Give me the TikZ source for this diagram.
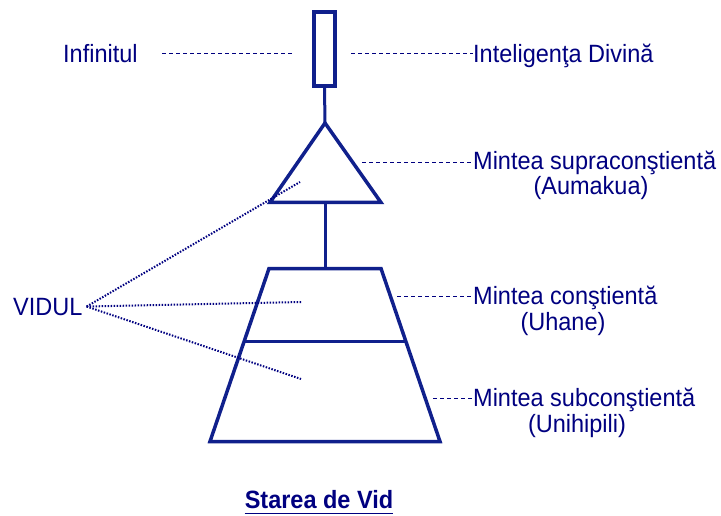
\documentclass[tikz,border=0pt]{standalone}
\usepackage{fontspec}
\setmainfont{Liberation Sans}[FakeStretch=0.94]
\definecolor{vidnavy}{RGB}{0,0,128}
\definecolor{vidline}{RGB}{16,32,140}

\begin{document}
\begin{tikzpicture}[x=1pt, y=-1pt,
    lbl/.style={font=\fontsize{25}{30}\selectfont, text=vidnavy, inner sep=0pt},
    shapeln/.style={draw=vidline, line width=3.5pt},
    stem/.style={draw=vidline, line width=3pt},
    guide/.style={draw=vidnavy, line width=0.9pt, dash pattern=on 4pt off 3pt},
    voidln/.style={draw=vidnavy, line width=2pt, dash pattern=on 1.5pt off 1.5pt}]

    \useasboundingbox (0,0) rectangle (721,516);

    % ====== SHAPES ======
    % Infinite (box)
    \node[shapeln, minimum width=21pt, minimum height=74pt, inner sep=0pt] (infbox) at (324.5,49) {};

    % Supraconscious (triangle)
    \coordinate (apex) at (325,123);
    \coordinate (trbl) at (270,202.5);
    \coordinate (trbr) at (381,202.5);
    \coordinate (trmid) at (325,202.5);
    \draw[shapeln, line join=miter] (apex) -- (trbr) -- (trbl) -- cycle;

    % Conscious and subconscious (trapezoid)
    \coordinate (tztl) at (269,268.5);
    \coordinate (tztr) at (381,268.5);
    \coordinate (tzbr) at (440,441.5);
    \coordinate (tzbl) at (210,441.5);
    \coordinate (tztop) at (325,268.5);
    \coordinate (tzml) at (244,341.5);
    \coordinate (tzmr) at (406,341.5);
    \draw[shapeln] (tztl) -- (tztr) -- (tzbr) -- (tzbl) -- cycle;
    \draw[shapeln] (tzml) -- (tzmr);

    % Stems
    \draw[stem] (infbox.south) -- (apex);
    \draw[stem] (trmid) -- (tztop);

    % ====== LABELS ======
    \node[lbl, anchor=base west] (infinit) at (63,63) {Infinitul};
    \node[lbl, anchor=base west] (divina) at (473,63) {Inteligenţa Divină};
    \node[lbl, anchor=base west] (supra) at (473,170) {Mintea supraconştientă};
    \node[lbl, anchor=base] (aumakua) at (591,195) {(Aumakua)};
    \node[lbl, anchor=base west] (constient) at (473,304) {Mintea conştientă};
    \node[lbl, anchor=base] (uhane) at (563,330) {(Uhane)};
    \node[lbl, anchor=base west] (subconst) at (473,406) {Mintea subconştientă};
    \node[lbl, anchor=base] (unihipili) at (577,432) {(Unihipili)};
    \node[lbl, anchor=base west] (vidul) at (13,315) {VIDUL};

    % Guide lines (dashed)
    \coordinate (infl) at (162,53);
    \coordinate (infr) at (294,53);
    \coordinate (divl) at (351,53);
    \coordinate (supl) at (362,162);
    \coordinate (conl) at (397,296);
    \coordinate (subl) at (433,398);
    \draw[guide] (infl) -- (infr);
    \draw[guide] (divl) -- (divl -| divina.west);
    \draw[guide] (supl) -- (supl -| supra.west);
    \draw[guide] (conl) -- (conl -| constient.west);
    \draw[guide] (subl) -- (subl -| subconst.west);

    % Void lines (dotted)
    \coordinate (vhub) at ([xshift=4pt]vidul.east);
    \coordinate (vsupra) at (300,182);
    \coordinate (vcon) at (302,302);
    \coordinate (vsub) at (301,379);
    \foreach \v in {vsupra,vcon,vsub} {
      \draw[voidln] (vhub) -- (\v);
    }

    % ====== TITLE ======
    \node[lbl, font=\fontsize{25}{30}\selectfont\bfseries, anchor=base] (title) at (319,508) {Starea de Vid};
    % Underline
    \draw[vidnavy, line width=1.8pt] ([yshift=-5pt]title.south west) -- ([yshift=-5pt]title.south east);

\end{tikzpicture}
\end{document}
